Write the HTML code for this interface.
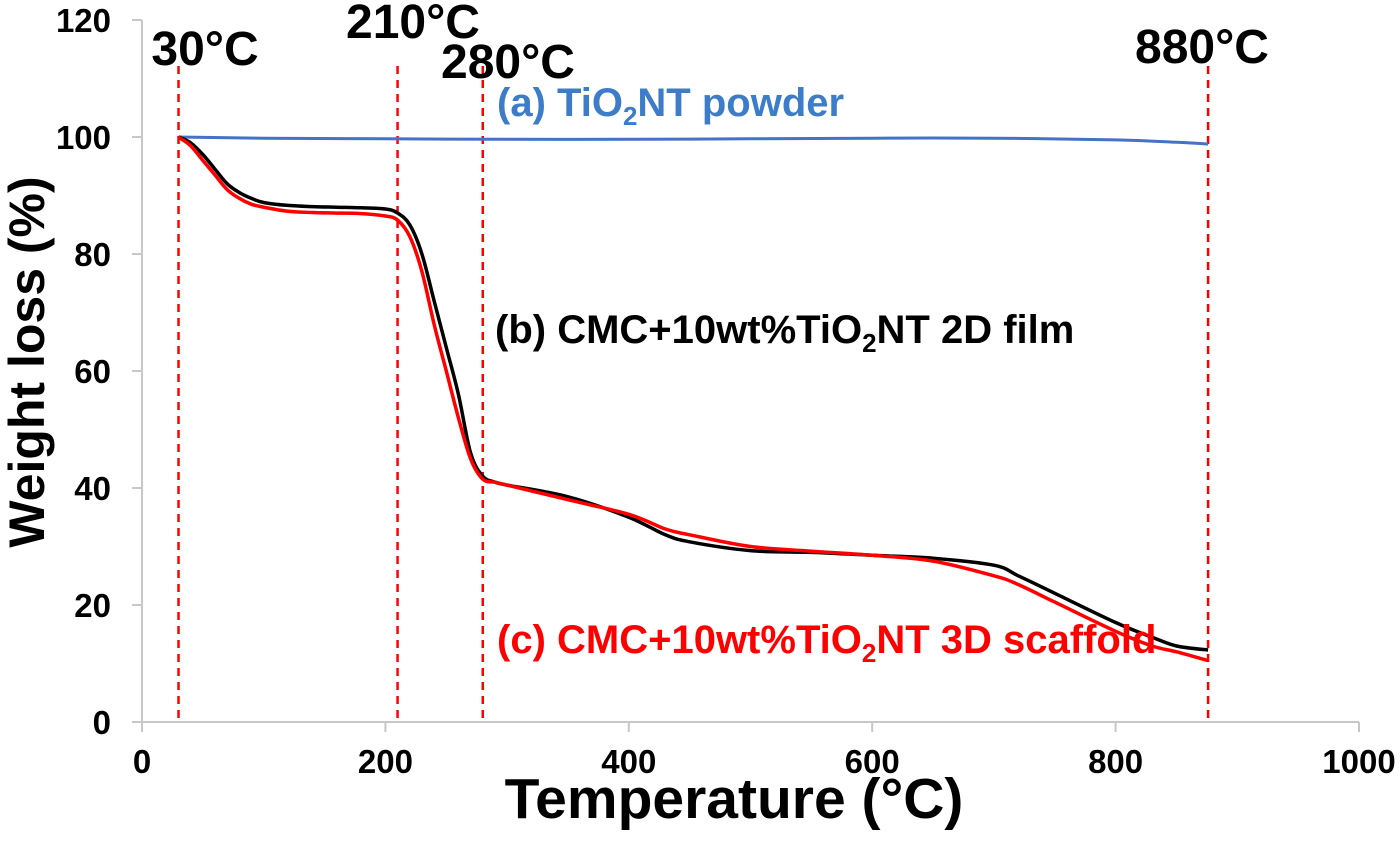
<!DOCTYPE html>
<html><head><meta charset="utf-8"><style>
body{margin:0;background:#fff;}
svg{display:block;font-family:"Liberation Sans",Arial,sans-serif;font-weight:bold;}
</style></head><body>
<svg id="chart" width="1400" height="841" viewBox="0 0 1400 841">
<g id="axes"></g>
<g id="marks"></g>
<text x="734" y="818" font-size="57" text-anchor="middle">Temperature (°C)</text>
<text transform="translate(44,362) rotate(-90)" font-size="50" text-anchor="middle">Weight loss (%)</text>
<text x="497" y="116" font-size="40" fill="#3c7cc8">(a) TiO<tspan font-size="26" dy="9">2</tspan><tspan dy="-9">NT powder</tspan></text>
<text x="495" y="343" font-size="40" fill="#000">(b) CMC+10wt%TiO<tspan font-size="26" dy="9">2</tspan><tspan dy="-9">NT 2D film</tspan></text>
<text x="497" y="653" font-size="40" fill="#f00">(c) CMC+10wt%TiO<tspan font-size="26" dy="9">2</tspan><tspan dy="-9">NT 3D scaffold</tspan></text>
</svg>
<script>
const xTicks=[0,200,400,600,800,1000];
const yTicks=[0,20,40,60,80,100,120];
const markerTemps=[30,210,280,876];
const markerLabels=["30°C","210°C","280°C","880°C"];
const tA=[30,100,200,300,400,500,600,700,800,850,876];
const wA=[100,99.8,99.7,99.6,99.6,99.7,99.8,99.8,99.5,99.1,98.8];
const tB=[30,40,50,60,70,80,90,100,120,140,160,180,200,210,220,230,240,250,260,270,280,290,300,350,400,430,450,500,550,600,650,700,720,750,800,830,850,876];
const wB=[100,99,97,94.5,92,90.5,89.5,88.8,88.3,88.1,88,87.9,87.7,87,85,80,72,64,56,46,42,41,40.5,38.5,35,32,30.8,29.3,29,28.5,28,26.8,25,22,17,14.5,13,12.3];
const tC=[30,40,50,60,70,80,90,100,120,140,160,180,200,210,220,230,240,250,260,270,280,290,300,350,400,430,450,500,550,600,650,700,720,750,800,830,850,876];
const wC=[100,98.5,96,93.5,91,89.5,88.5,88,87.3,87.1,87,86.9,86.5,85.8,83,77,68,60,52,45,41.5,41,40.5,38,35.5,33,32,30,29.2,28.5,27.5,25,23.5,20.5,15.5,13,12,10.5];
const X0=142,X1=1359,Y0=722,Y1=20;
const sx=v=>X0+(v-0)/(1000-0)*(X1-X0);
const sy=v=>Y0-(v-0)/(120-0)*(Y0-Y1);
const NS="http://www.w3.org/2000/svg";
const axes=document.getElementById('axes'),marks=document.getElementById('marks');
function mk(tag,attrs,parent){const e=document.createElementNS(NS,tag);for(const k in attrs)e.setAttribute(k,attrs[k]);parent.appendChild(e);return e;}
let e=mk('line',{x1:X0,y1:Y0,x2:X1,y2:Y0,stroke:'#c8c8c8','stroke-width':2},axes);


e=mk('line',{x1:X0,y1:Y0,x2:X0,y2:Y1,stroke:'#c8c8c8','stroke-width':2},axes);


xTicks.forEach(v=>{
  mk('line',{x1:sx(v),y1:Y0,x2:sx(v),y2:Y0+10,stroke:'#c8c8c8','stroke-width':2},axes);
  const t=mk('text',{x:sx(v),y:Y0+51,'font-size':33,'text-anchor':'middle'},axes);t.textContent=v;
  
  
});
yTicks.forEach(v=>{
  mk('line',{x1:X0-10,y1:sy(v),x2:X0,y2:sy(v),stroke:'#c8c8c8','stroke-width':2},axes);
  const t=mk('text',{x:X0-31,y:sy(v)+12,'font-size':33,'text-anchor':'end'},axes);t.textContent=v;
  
  
});
const labY=[65,38,78,63];
const labX=[205,413,508,1202];
markerTemps.forEach((v,i)=>{
  const l=mk('line',{x1:sx(v),y1:66,x2:sx(v),y2:Y0,stroke:'#f00','stroke-width':2.5,'stroke-dasharray':'8,6'},marks);
  
  
  const t=mk('text',{x:labX[i],y:labY[i],'font-size':48,'text-anchor':'middle'},marks);t.textContent=markerLabels[i];
  
  
});
function path(ts,ws,color,name,w){
  const P=ts.map((t,i)=>[sx(t),sy(ws[i])]);
  let d='M'+P[0][0].toFixed(1)+','+P[0][1].toFixed(1);
  for(let i=0;i<P.length-1;i++){
    const p0=P[Math.max(i-1,0)],p1=P[i],p2=P[i+1],p3=P[Math.min(i+2,P.length-1)];
    const c1=[p1[0]+(p2[0]-p0[0])/6,p1[1]+(p2[1]-p0[1])/6];
    const c2=[p2[0]-(p3[0]-p1[0])/6,p2[1]-(p3[1]-p1[1])/6];
    d+=' C'+c1.map(n=>n.toFixed(1))+' '+c2.map(n=>n.toFixed(1))+' '+p2.map(n=>n.toFixed(1));
  }
  const p=mk('path',{d:d,fill:'none',stroke:color,'stroke-width':w,'stroke-linejoin':'round'},marks);
  
  
}
path(tA,wA,'#4472c4','series-a-line',3);
path(tB,wB,'#000','series-b-line',3.5);
path(tC,wC,'#f00','series-c-line',3.5);
</script>
</body></html>
